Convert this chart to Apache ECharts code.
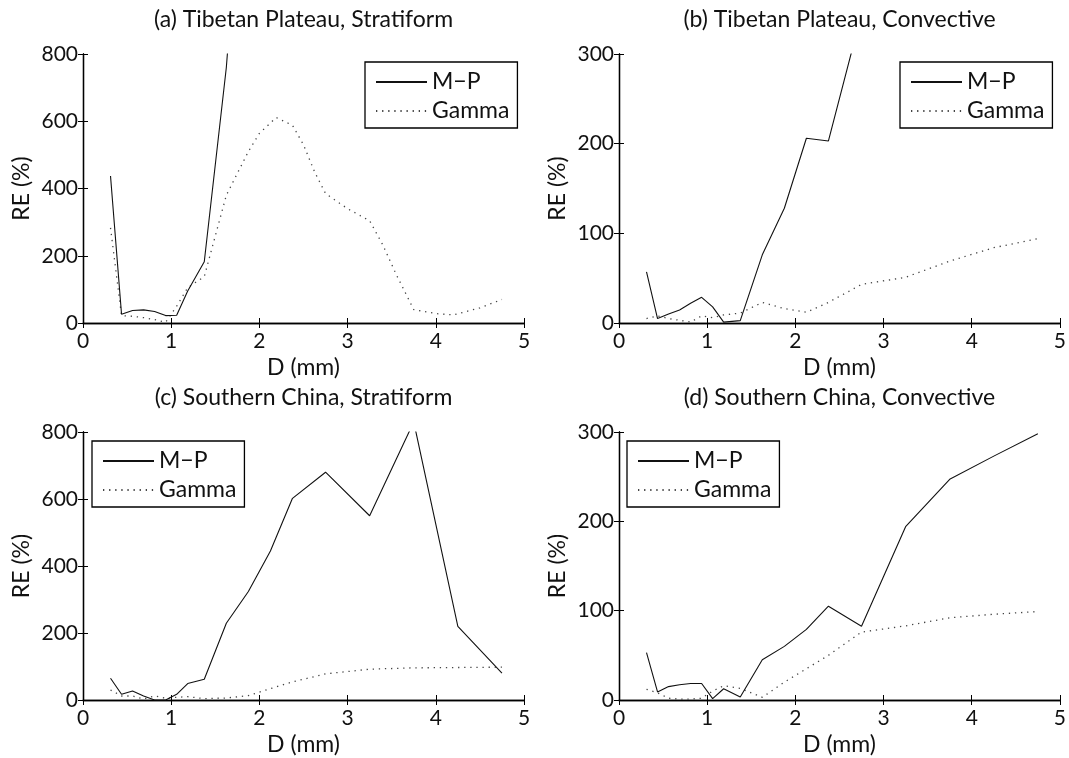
<!DOCTYPE html>
<html>
<head>
<meta charset="utf-8">
<script src="https://cdn.jsdelivr.net/npm/echarts@6/dist/echarts.min.js"></script>
<style>
  html, body { margin: 0; padding: 0; background: #fff; }
  #main { width: 1069px; height: 758px; }
</style>
</head>
<body>
<div id="main"></div>
<script>
// drop size bins (mm), same for every panel
var dBins = [0.312, 0.437, 0.562, 0.687, 0.812, 0.937, 1.062, 1.187, 1.375, 1.625, 1.875, 2.125, 2.375, 2.75, 3.25, 3.75, 4.25, 4.75];

// (a) Tibetan Plateau, Stratiform
var mpA = [437, 26, 37, 39, 34, 22, 23, 95, 182, 760, 1600];
var gammaDA = [0.312, 0.437, 0.562, 0.687, 0.812, 0.937, 1.062, 1.187, 1.375, 1.625, 1.875, 2.0, 2.19, 2.375, 2.5, 2.625, 2.75, 3.0, 3.25, 3.4, 3.55, 3.75, 4.0, 4.2, 4.5, 4.75];
var gammaA = [283, 22, 20, 16, 10, 2, 50, 105, 138, 380, 510, 564, 611, 588, 530, 450, 385, 340, 304, 232, 145, 40, 28, 24, 45, 70];

// (b) Tibetan Plateau, Convective
var mpB = [57, 5, 10, 14.5, 22, 28.6, 18, 1, 2.6, 76, 128, 206, 203, 345];
var gammaB = [5, 8, 5, 3, 1, 8, 6, 9, 11, 23, 16, 12, 23, 43, 51, 69, 84, 94];

// (c) Southern China, Stratiform
var mpC = [65, 17, 27, 12, 0, 0, 17, 49, 62, 229, 324, 445, 602, 680, 550, 830, 220, 80];
var gammaC = [30, 12, 12, 3, 12, 5, 8, 10, 4, 6, 13, 34, 54, 78, 92, 96, 97, 98];

// (d) Southern China, Convective
var mpD = [53, 9, 15, 17, 18.5, 18.5, 1.5, 12.6, 3.3, 45, 60, 79, 105, 82.5, 194, 247, 273, 298];
var gammaD = [12, 8, 2, 1, 1, 2, 10, 16, 13, 3, 20, 35, 50, 76, 83, 92, 96, 99];

var titles = ['(a) Tibetan Plateau, Stratiform', '(b) Tibetan Plateau, Convective',
              '(c) Southern China, Stratiform', '(d) Southern China, Convective'];
var yMax = [800, 300, 800, 300];
var yStep = [200, 100, 200, 100];

var FONT = 'Lato';
var TXT = 23;   // words
var NUM = 21;   // tick numbers

function pairs(xs, ys) {
  var out = [];
  for (var i = 0; i < ys.length; i++) out.push([xs[i], ys[i]]);
  return out;
}

// panel boxes in pixels
var grids = [
  { left: 83, top: 54, width: 441, height: 269 },
  { left: 619, top: 54, width: 441, height: 269 },
  { left: 83, top: 432, width: 441, height: 268 },
  { left: 619, top: 432, width: 441, height: 268 }
];

var axisLine = { show: true, lineStyle: { color: '#000', width: 1.3 } };
var tickIn = { show: true, inside: true, length: 5, lineStyle: { color: '#000', width: 1 } };

var xAxes = [], yAxes = [], titleOpts = [];
grids.forEach(function (g, i) {
  xAxes.push({
    gridIndex: i, type: 'value', min: 0, max: 5, interval: 1, position: 'bottom',
    name: 'D (mm)', nameLocation: 'middle', nameGap: 33,
    nameTextStyle: { fontFamily: FONT, fontSize: TXT, color: '#111' },
    axisLine: axisLine, axisTick: tickIn, splitLine: { show: false },
    axisLabel: { fontFamily: FONT, fontSize: NUM, color: '#111', margin: 8 }
  });
  xAxes.push({
    gridIndex: i, type: 'value', min: 0, max: 5, interval: 1, position: 'top',
    axisLine: axisLine, axisTick: tickIn, splitLine: { show: false }, axisLabel: { show: false }
  });
  yAxes.push({
    gridIndex: i, type: 'value', min: 0, max: yMax[i], interval: yStep[i], position: 'left',
    name: 'RE (%)', nameLocation: 'middle', nameGap: 50, nameRotate: 90,
    nameTextStyle: { fontFamily: FONT, fontSize: TXT, color: '#111' },
    axisLine: axisLine, axisTick: tickIn, splitLine: { show: false },
    axisLabel: { fontFamily: FONT, fontSize: NUM, color: '#111', margin: 5 }
  });
  yAxes.push({
    gridIndex: i, type: 'value', min: 0, max: yMax[i], interval: yStep[i], position: 'right',
    axisLine: axisLine, axisTick: tickIn, splitLine: { show: false }, axisLabel: { show: false }
  });
  titleOpts.push({
    text: titles[i], left: g.left + g.width / 2, top: i < 2 ? 8 : 386, textAlign: 'center', padding: 0,
    textStyle: { fontFamily: FONT, fontSize: TXT, fontWeight: 'normal', color: '#111' }
  });
});

var mpStyle = { color: '#111', width: 1.1 };
var gammaStyle = { color: '#444', width: 1.3, type: [1.3, 4.8] };

function mpSeries(i, vals) {
  return { name: 'M\u2212P', type: 'line', xAxisIndex: i * 2, yAxisIndex: i * 2, data: pairs(dBins, vals),
    showSymbol: false, symbol: 'none', lineStyle: mpStyle, itemStyle: { color: '#111' }, clip: true, z: 3 };
}
function gammaSeries(i, xs, vals) {
  return { name: 'Gamma', type: 'line', xAxisIndex: i * 2, yAxisIndex: i * 2, data: pairs(xs, vals),
    showSymbol: false, symbol: 'none', lineStyle: gammaStyle, itemStyle: { color: '#444' }, clip: true, z: 2 };
}

var legendPos = [
  { left: 365, top: 62 },
  { left: 900, top: 62 },
  { left: 92, top: 441 },
  { left: 627, top: 441 }
];
var legends = legendPos.map(function (p) {
  return {
    orient: 'vertical', left: p.left, top: p.top, data: ['M\u2212P', 'Gamma'],
    borderColor: '#000', borderWidth: 1.3, backgroundColor: '#fff',
    padding: [8, 8, 5, 10], itemGap: 5, itemWidth: 51, itemHeight: 14,
    selectedMode: false,
    itemStyle: { opacity: 0 },
    textStyle: { fontFamily: FONT, fontSize: TXT, color: '#111', lineHeight: 24 }
  };
});

var myChart = echarts.init(document.getElementById('main'), null, { renderer: 'canvas' });
var option = {
  animation: false,
  backgroundColor: '#fff',
  title: titleOpts,
  legend: legends,
  grid: grids,
  xAxis: xAxes,
  yAxis: yAxes,
  series: [
    mpSeries(0, mpA), gammaSeries(0, gammaDA, gammaA),
    mpSeries(1, mpB), gammaSeries(1, dBins, gammaB),
    mpSeries(2, mpC), gammaSeries(2, dBins, gammaC),
    mpSeries(3, mpD), gammaSeries(3, dBins, gammaD)
  ]
};
option && myChart.setOption(option);
</script>
</body>
</html>
